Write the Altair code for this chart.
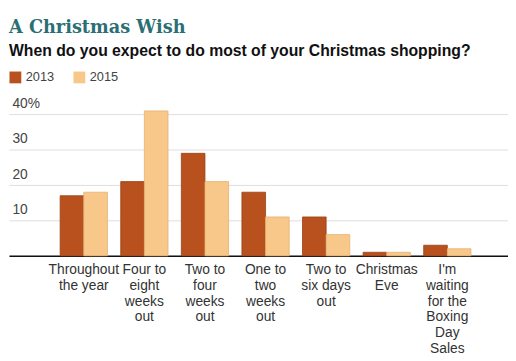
import altair as alt
import pandas as pd

categories = [
    "Throughout|the year",
    "Four to|eight|weeks|out",
    "Two to|four|weeks|out",
    "One to|two|weeks|out",
    "Two to|six days|out",
    "Christmas|Eve",
    "I'm|waiting|for the|Boxing|Day|Sales",
]
values_2013 = [17, 21, 29, 18, 11, 1, 3]
values_2015 = [18, 41, 21, 11, 6, 1, 2]
years = ["2013", "2015"]
y_ticks = [0, 10, 20, 30, 40]

rows = []
for c, a, b in zip(categories, values_2013, values_2015):
    rows.append({"category": c, "year": years[0], "value": a})
    rows.append({"category": c, "year": years[1], "value": b})
df = pd.DataFrame(rows)

chart = (
    alt.Chart(df)
    .mark_bar(strokeWidth=0.8)
    .encode(
        x=alt.X(
            "category:N",
            sort=categories,
            title=None,
            scale=alt.Scale(paddingInner=0.22, paddingOuter=0.728, align=0.58),
            axis=alt.Axis(
                labelExpr="split(datum.label, '|')",
                labelAngle=0,
                labelFontSize=14,
                labelFont="Liberation Sans",
                labelColor="#333333",
                labelLineHeight=16,
                labelPadding=7,
                labelLimit=0,
                labelOverlap=False,
                ticks=False,
                domainColor="#111111",
                domainWidth=1.5,
                grid=False,
            ),
        ),
        xOffset=alt.XOffset("year:N", scale=alt.Scale(paddingInner=0, paddingOuter=0)),
        y=alt.Y(
            "value:Q",
            title=None,
            scale=alt.Scale(domain=[0, 44], nice=False),
            axis=alt.Axis(
                values=y_ticks,
                labelExpr="datum.value == 40 ? '40%' : (datum.value == 0 ? '' : datum.label)",
                labelAlign="left",
                labelBaseline="bottom",
                labelPadding=-3,
                labelOffset=-4,
                labelFontSize=14,
                labelFont="Liberation Sans",
                labelColor="#444444",
                ticks=False,
                domain=False,
                grid=True,
                gridColor="#dddddd",
            ),
        ),
        color=alt.Color(
            "year:N",
            scale=alt.Scale(domain=years, range=["#b8511d", "#f8c88a"]),
            legend=alt.Legend(
                title=None,
                orient="none",
                legendX=0,
                legendY=-30,
                direction="horizontal",
                symbolType="square",
                symbolSize=144,
                symbolStrokeWidth=0,
                labelFontSize=13,
                labelFont="Liberation Sans",
                labelColor="#444444",
                labelOffset=4,
                columnPadding=19,
            ),
        ),
        stroke=alt.Stroke(
            "year:N",
            scale=alt.Scale(domain=years, range=["#9a4015", "#e3b070"]),
            legend=None,
        ),
    )
    .properties(
        width=507,
        height=158,
        padding={"left": 1, "top": 91, "right": 0, "bottom": 100},
        autosize=alt.AutoSizeParams(type="none"),
        title=alt.TitleParams(
            text="A Christmas Wish",
            subtitle="When do you expect to do most of your Christmas shopping?",
            anchor="start",
            frame="group",
            font="DejaVu Serif",
            fontSize=18,
            fontWeight="bold",
            color="#2a6f73",
            subtitleFont="Liberation Sans",
            subtitleFontSize=16,
            subtitleFontWeight="bold",
            subtitleColor="#111111",
            subtitlePadding=6,
            offset=12,
        ),
    )
    .configure_view(stroke=None)
)

chart.save("out.html", embed_options={"renderer": "svg", "actions": False})
